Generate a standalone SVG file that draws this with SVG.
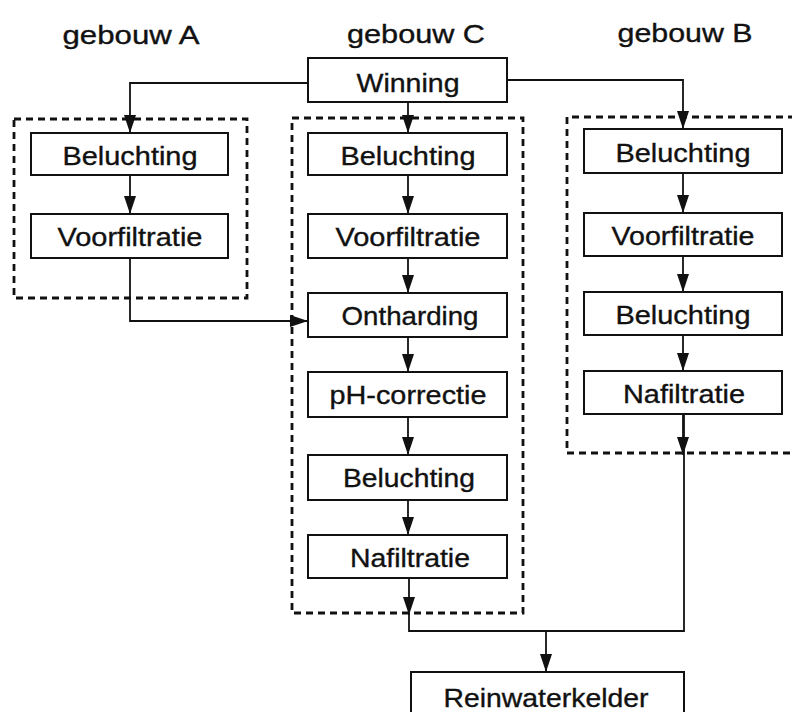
<svg xmlns="http://www.w3.org/2000/svg" width="792" height="712" viewBox="0 0 792 712">
<style>
text{font-family:"Liberation Sans",Arial,sans-serif;font-size:26px;fill:#111;stroke:#111;stroke-width:0.35;text-anchor:middle}
.box{fill:#fff;stroke:#111;stroke-width:2}
.grp{fill:none;stroke:#111;stroke-width:2.8;stroke-dasharray:7 5}
.con{fill:none;stroke:#111;stroke-width:1.8}
</style>
<defs>
<marker id="ah" markerUnits="userSpaceOnUse" markerWidth="18" markerHeight="12" refX="18" refY="6" orient="auto" viewBox="0 0 18 12">
<path d="M0,0 L18,6 L0,12 Z" fill="#111"/>
</marker>
</defs>
<rect width="792" height="712" fill="#fff"/>
<g id="titles">
<text x="131" y="44" textLength="137" lengthAdjust="spacingAndGlyphs">gebouw A</text>
<text x="416" y="43" textLength="138" lengthAdjust="spacingAndGlyphs">gebouw C</text>
<text x="685" y="42" textLength="135" lengthAdjust="spacingAndGlyphs">gebouw B</text>
</g>
<g id="groups">
<rect id="group-A" class="grp" x="14" y="119" width="233" height="179"/>
<rect id="group-C" class="grp" x="292" y="118" width="231" height="495"/>
<path id="group-B" class="grp" d="M795 117 H567 V453 H795"/>
</g>
<g id="connectors">
<path class="con" d="M308 83 H130 V133" marker-end="url(#ah)"/>
<path class="con" d="M408 102 V133" marker-end="url(#ah)"/>
<path class="con" d="M507 80 H683 V129" marker-end="url(#ah)"/>
<path class="con" d="M130 175 V214" marker-end="url(#ah)"/>
<path class="con" d="M130 258 V321 H308" marker-end="url(#ah)"/>
<path class="con" d="M408 175 V214" marker-end="url(#ah)"/>
<path class="con" d="M408 258 V293" marker-end="url(#ah)"/>
<path class="con" d="M408 337 V372" marker-end="url(#ah)"/>
<path class="con" d="M408 417 V455" marker-end="url(#ah)"/>
<path class="con" d="M408 500 V535" marker-end="url(#ah)"/>
<path class="con" d="M409 578 V615" marker-end="url(#ah)"/>
<path class="con" d="M409 612 V631 H684 V412"/>
<path class="con" d="M683 173 V213" marker-end="url(#ah)"/>
<path class="con" d="M683 256 V292" marker-end="url(#ah)"/>
<path class="con" d="M683 335 V371" marker-end="url(#ah)"/>
<path class="con" d="M683 414 V455" marker-end="url(#ah)"/>
<path class="con" d="M546 631 V672" marker-end="url(#ah)"/>
</g>
<g id="winning"><rect class="box" x="308" y="58" width="199" height="44"/><text x="408" y="92" textLength="103" lengthAdjust="spacingAndGlyphs">Winning</text></g>
<g id="A-beluchting"><rect class="box" x="31" y="133" width="197" height="42"/><text x="130" y="165" textLength="135" lengthAdjust="spacingAndGlyphs">Beluchting</text></g>
<g id="A-voorfiltratie"><rect class="box" x="31" y="214" width="197" height="44"/><text x="130" y="246" textLength="145" lengthAdjust="spacingAndGlyphs">Voorfiltratie</text></g>
<g id="C-beluchting"><rect class="box" x="308" y="133" width="199" height="42"/><text x="408" y="165" textLength="135" lengthAdjust="spacingAndGlyphs">Beluchting</text></g>
<g id="C-voorfiltratie"><rect class="box" x="308" y="214" width="199" height="44"/><text x="408" y="246" textLength="145" lengthAdjust="spacingAndGlyphs">Voorfiltratie</text></g>
<g id="C-ontharding"><rect class="box" x="308" y="293" width="199" height="44"/><text x="410" y="325" textLength="137" lengthAdjust="spacingAndGlyphs">Ontharding</text></g>
<g id="C-ph"><rect class="box" x="308" y="372" width="199" height="45"/><text x="408" y="404" textLength="157" lengthAdjust="spacingAndGlyphs">pH-correctie</text></g>
<g id="C-beluchting2"><rect class="box" x="308" y="455" width="199" height="45"/><text x="409" y="487" textLength="132" lengthAdjust="spacingAndGlyphs">Beluchting</text></g>
<g id="C-nafiltratie"><rect class="box" x="308" y="535" width="199" height="43"/><text x="410" y="567" textLength="120" lengthAdjust="spacingAndGlyphs">Nafiltratie</text></g>
<g id="B-beluchting"><rect class="box" x="584" y="129" width="198" height="44"/><text x="683" y="162" textLength="135" lengthAdjust="spacingAndGlyphs">Beluchting</text></g>
<g id="B-voorfiltratie"><rect class="box" x="584" y="213" width="198" height="43"/><text x="683" y="245" textLength="143" lengthAdjust="spacingAndGlyphs">Voorfiltratie</text></g>
<g id="B-beluchting2"><rect class="box" x="584" y="292" width="198" height="43"/><text x="683" y="324" textLength="135" lengthAdjust="spacingAndGlyphs">Beluchting</text></g>
<g id="B-nafiltratie"><rect class="box" x="584" y="371" width="198" height="43"/><text x="684" y="403" textLength="122" lengthAdjust="spacingAndGlyphs">Nafiltratie</text></g>
<g id="reinwaterkelder"><rect class="box" x="411" y="672" width="273" height="46"/><text x="546" y="707" textLength="205" lengthAdjust="spacingAndGlyphs">Reinwaterkelder</text></g>
</svg>
